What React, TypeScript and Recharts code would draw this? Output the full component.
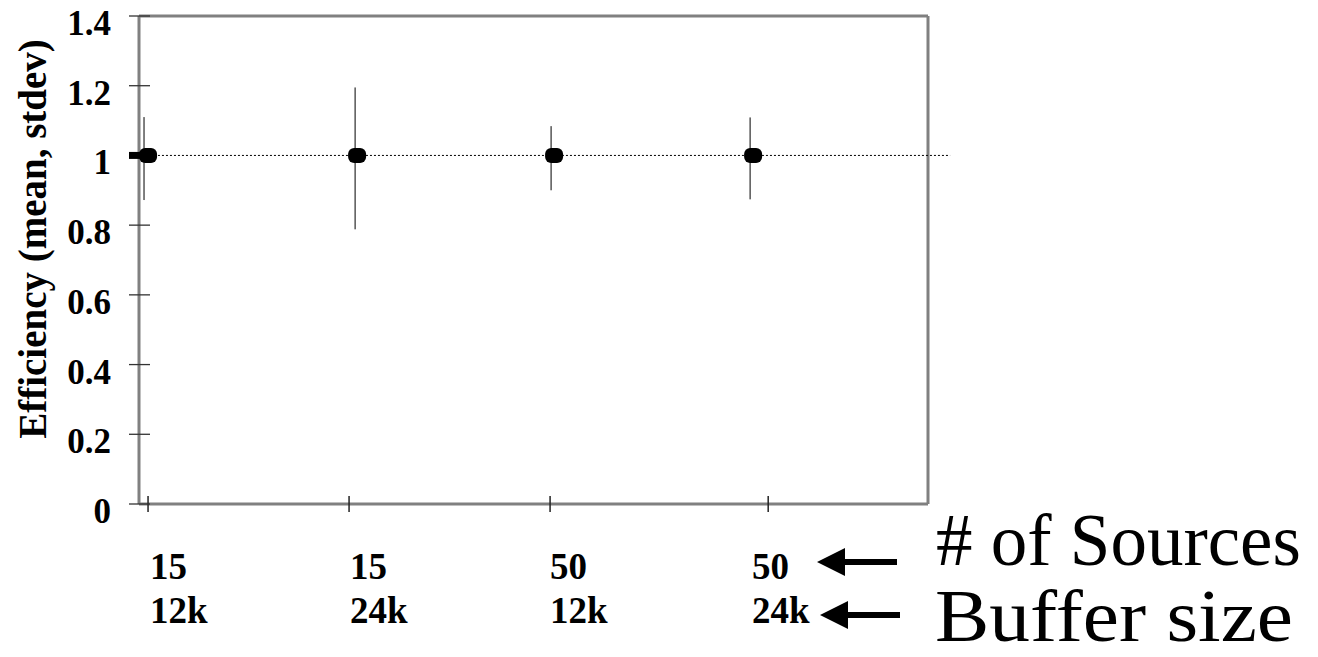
import React from 'react';
import { ScatterChart, Scatter, XAxis, YAxis, ErrorBar, ReferenceLine, ReferenceDot, Label } from 'recharts';

// ---- data ----
const sources = ['15', '15', '50', '50'];
const buffers = ['12k', '24k', '12k', '24k'];
const means = [1, 1, 1, 1];
const errLow = [0.128, 0.212, 0.1, 0.126];
const errHigh = [0.11, 0.195, 0.084, 0.109];
// positions along the (numeric) category axis
const pointX = [0, 1.04, 2.02, 3.01];
const errX = [-0.02, 1.03, 2.005, 2.995];
const labelX = [0.01, 1.005, 2.0, 3.005];
const tickX = [0, 1, 2, 3.085];
const yTicks = [0, 0.2, 0.4, 0.6, 0.8, 1, 1.2, 1.4];
const xDomain = [-0.045, 3.88];
const refY = 1;
const refSpan = [-0.09, 3.99];
const legendLines = ['# of Sources', 'Buffer size'];

const pointData = pointX.map((x, i) => ({ x, y: means[i] }));
const errData = errX.map((x, i) => ({ x, y: means[i], err: [errLow[i], errHigh[i]] }));

const FONT = '"Liberation Serif", "Times New Roman", serif';
const GRAY = '#808080';

const YTick = (props: any) => {
  const { x, y, payload } = props;
  const v = payload.value;
  return (
    <g>
      {v === 1 ? (
        <line x1={x - 10} x2={x + 1} y1={y} y2={y} stroke="#000" strokeWidth={7} />
      ) : (
        <line x1={x - 10} x2={x + 11} y1={y} y2={y} stroke="#333" strokeWidth={1.3} />
      )}
      <text x={x - 28} y={y + 19} textAnchor="end" fontFamily={FONT} fontWeight="bold" fontSize={35} fill="#000">
        {String(v)}
      </text>
    </g>
  );
};

const XTick = (props: any) => {
  const { x, y } = props;
  return <line x1={x} x2={x} y1={y - 8} y2={y + 8} stroke="#222" strokeWidth={1.5} />;
};

const Marker = (props: any) => {
  const { cx, cy } = props;
  return <rect x={cx - 9} y={cy - 7.5} width={18} height={15} rx={6} ry={6} fill="#000" />;
};

const Empty = () => <g />;

const makeCatLabel = (i: number) => (p: any) => {
  const vb = p.viewBox || {};
  const x = vb.x ?? 0;
  const y = vb.y ?? 0;
  return (
    <g>
      <text x={x} y={y + 75} fontFamily={FONT} fontWeight="bold" fontSize={37} fill="#000">{sources[i]}</text>
      <text x={x} y={y + 119} fontFamily={FONT} fontWeight="bold" fontSize={37} fill="#000">{buffers[i]}</text>
    </g>
  );
};

const arrowPath = (tipX: number, cy: number) => {
  const headLen = 28;
  const headHalf = 14;
  const shaftEnd = tipX + 80;
  const sh = 3;
  return `M${tipX},${cy} L${tipX + headLen},${cy - headHalf} L${tipX + headLen},${cy - sh} L${shaftEnd},${cy - sh} L${shaftEnd},${cy + sh} L${tipX + headLen},${cy + sh} L${tipX + headLen},${cy + headHalf} Z`;
};

export default function App() {
  return (
    <div style={{ position: 'relative', width: 1310, height: 649, marginTop: -8, marginLeft: -8 }}>
      <ScatterChart width={1310} height={649} margin={{ top: 16, right: 382, bottom: 144, left: 19 }}>
        <XAxis
          type="number"
          dataKey="x"
          domain={xDomain}
          ticks={tickX}
          height={1}
          allowDataOverflow
          axisLine={{ stroke: GRAY, strokeWidth: 3 }}
          tickLine={false}
          tickSize={0}
          tickMargin={0}
          tick={<XTick />}
          interval={0}
        />
        <YAxis
          type="number"
          dataKey="y"
          domain={[0, 1.4]}
          ticks={yTicks}
          width={120}
          allowDataOverflow
          axisLine={{ stroke: GRAY, strokeWidth: 3 }}
          tickLine={false}
          tickSize={0}
          tickMargin={0}
          tick={<YTick />}
          interval={0}
        >
          <Label
            value="Efficiency (mean, stdev)"
            angle={-90}
            position="insideLeft"
            offset={0}
            content={() => {
              const cx = 32;
              const cy = 239;
              return (
                <text
                  x={cx}
                  y={cy}
                  transform={`rotate(-90 ${cx} ${cy})`}
                  textAnchor="middle"
                  dominantBaseline="central"
                  fontFamily={FONT}
                  fontWeight="bold"
                  fontSize={39}
                  fill="#000"
                >
                  Efficiency (mean, stdev)
                </text>
              );
            }}
          />
        </YAxis>
        <ReferenceLine y={1.4} stroke={GRAY} strokeWidth={3} />
        <ReferenceLine x={xDomain[1]} stroke={GRAY} strokeWidth={3} />
        <ReferenceLine
          segment={[{ x: refSpan[0], y: refY }, { x: refSpan[1], y: refY }]}
          ifOverflow="visible"
          stroke="#000"
          strokeWidth={1}
          strokeDasharray="2 2"
        />
        <Scatter data={errData} shape={<Empty />} isAnimationActive={false}>
          <ErrorBar dataKey="err" direction="y" width={0} stroke="#000" strokeWidth={1} isAnimationActive={false} />
        </Scatter>
        <Scatter data={pointData} shape={<Marker />} isAnimationActive={false} />
        {labelX.map((lx, i) => (
          <ReferenceDot key={i} x={lx} y={0} r={0} ifOverflow="visible" stroke="none" fill="none" label={makeCatLabel(i)} />
        ))}
      </ScatterChart>
      <svg
        width={1310}
        height={649}
        style={{ position: 'absolute', left: 0, top: 0, overflow: 'visible', pointerEvents: 'none' }}
      >
        <path d={arrowPath(817, 562)} fill="#000" />
        <path d={arrowPath(820, 615)} fill="#000" />
        <text x={936} y={565} fontFamily={FONT} fontSize={73} fill="#000">{legendLines[0]}</text>
        <text
          x={935}
          y={641}
          fontFamily={FONT}
          fontSize={73}
          fill="#000"
          textLength={358}
          lengthAdjust="spacingAndGlyphs"
        >
          {legendLines[1]}
        </text>
      </svg>
    </div>
  );
}
